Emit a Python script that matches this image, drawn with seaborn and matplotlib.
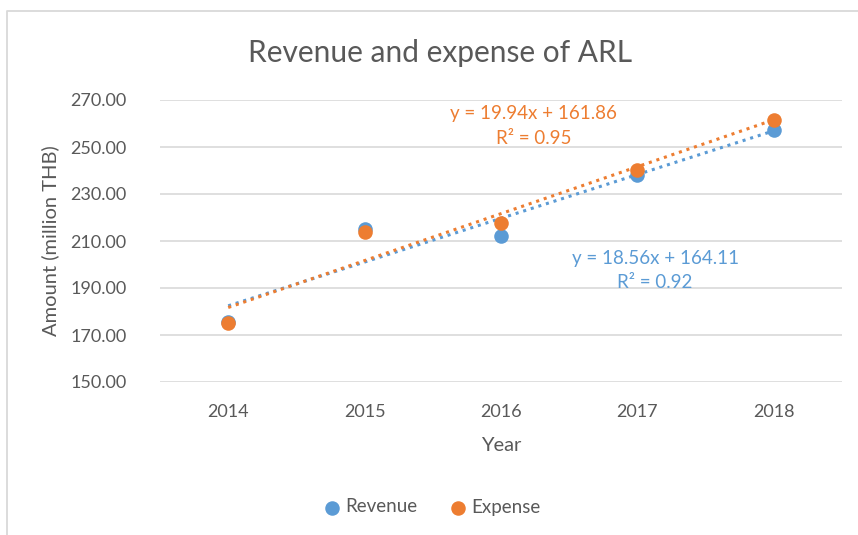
"""Revenue and expense of ARL with linear trendlines."""
import matplotlib.pyplot as plt
import numpy as np
import seaborn as sns
from matplotlib.lines import Line2D

years = ["2014", "2015", "2016", "2017", "2018"]
revenue = [175.6, 215.2, 212.1, 238.2, 257.2]
expense = [175.0, 213.8, 217.5, 240.3, 261.6]
rev_eq = ["y = 18.56x + 164.11", "R² = 0.92"]
exp_eq = ["y = 19.94x + 161.86", "R² = 0.95"]
yticks = [150, 170, 190, 210, 230, 250, 270]

BLUE = "#5B9BD5"
ORANGE = "#ED7D31"
GREY = "#595959"

sns.set_theme(style="white")
plt.rcParams["font.family"] = ["Lato", "DejaVu Sans"]

fig = plt.figure(figsize=(8.58, 5.35), dpi=100)
ax = fig.add_axes([160 / 858, 1 - 382 / 535, 682 / 858, 282 / 535])

# outer chart frame (left and top edges only visible in the crop)
fig.add_artist(Line2D([7 / 858, 7 / 858, 1.0],
                      [0, 1 - 11 / 535, 1 - 11 / 535],
                      transform=fig.transFigure, color="#d9d9d9", lw=1.3))

x = np.arange(len(years))
for vals, col, lab in [(revenue, BLUE, "Revenue"), (expense, ORANGE, "Expense")]:
    sns.regplot(x=x, y=np.array(vals), ax=ax, ci=None, color=col, truncate=True,
                scatter_kws={"s": 110, "alpha": 1, "zorder": 3, "linewidths": 0},
                line_kws={"ls": (0, (1, 1.6)), "lw": 2.2, "zorder": 2})
    ax.scatter([], [], color=col, s=110, label=lab)

ax.set_xlim(-0.5, 4.5)
ax.set_ylim(150, 270)
ax.set_xticks(x)
ax.set_xticklabels(years)
ax.set_yticks(yticks)
ax.set_yticklabels([f"{v:.2f}" for v in yticks])
ax.yaxis.grid(True, color="#d9d9d9", lw=1.2)
ax.set_axisbelow(True)
sns.despine(ax=ax, left=True, bottom=True, top=True, right=True)
ax.tick_params(axis="both", colors=GREY, labelsize=13, length=0)
ax.tick_params(axis="y", pad=24)
ax.tick_params(axis="x", pad=16)

ax.set_xlabel("Year", fontsize=14.5, color=GREY, labelpad=12)
ax.set_ylabel("Amount (million THB)", fontsize=14.5, color=GREY, labelpad=8)
fig.text(440 / 858, 1 - 53 / 535, "Revenue and expense of ARL", fontsize=21.5,
         color=GREY, ha="center", va="center")

ax.text(2.24, 264.3, exp_eq[0], color=ORANGE, fontsize=13.5, ha="center", va="center")
ax.text(2.24, 253.8, exp_eq[1], color=ORANGE, fontsize=13.5, ha="center", va="center")
ax.text(3.13, 202.5, rev_eq[0], color=BLUE, fontsize=13.5, ha="center", va="center")
ax.text(3.13, 192.5, rev_eq[1], color=BLUE, fontsize=13.5, ha="center", va="center")

fig.legend(loc="center", bbox_to_anchor=(430 / 858, 1 - 507 / 535), ncol=2,
           frameon=False, fontsize=13.5, handletextpad=0.05, handlelength=1.3,
           columnspacing=1.5, labelcolor=GREY, markerscale=0.9)

fig.savefig("out.png", dpi=100)
